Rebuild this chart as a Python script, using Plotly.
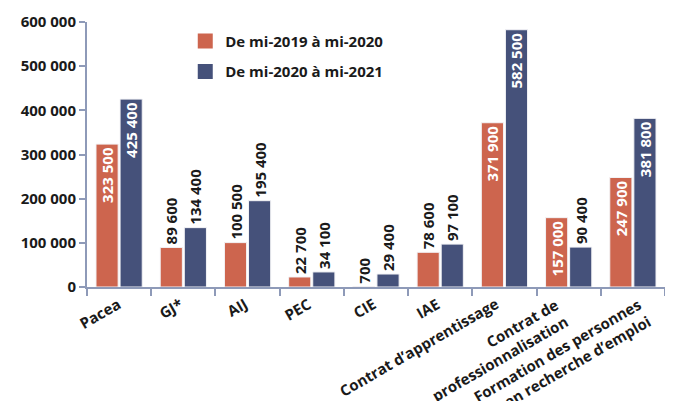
import plotly.graph_objects as go

categories = ["Pacea", "GJ*", "AIJ", "PEC", "CIE", "IAE",
              "Contrat d’apprentissage", "Contrat de<br>professionnalisation",
              "Formation des personnes<br>en recherche d’emploi"]
series_2019 = [323500, 89600, 100500, 22700, 700, 78600, 371900, 157000, 247900]
series_2020 = [425400, 134400, 195400, 34100, 29400, 97100, 582500, 90400, 381800]
name_2019 = "De mi-2019 à mi-2020"
name_2020 = "De mi-2020 à mi-2021"
y_ticks = [0, 100000, 200000, 300000, 400000, 500000, 600000]
y_tick_labels = ["0", "100 000", "200 000", "300 000", "400 000", "500 000", "600 000"]

# label placement (style)
pos_2019 = ["inside", "outside", "outside", "outside", "outside", "outside", "inside", "inside", "inside"]
pos_2020 = ["inside", "outside", "outside", "outside", "outside", "outside", "inside", "outside", "inside"]
label_xshift = [8, 6, 6, 6, 6, 6, 0, 6, 24]

ORANGE = "#CD654E"
NAVY = "#45517A"
AXIS = "#8E9AB8"
DARK = "#1a1a1a"
FONT = "Open Sans, sans-serif"

def fmt(v):
    return f"{v:,}".replace(",", " ")

def trace(vals, name, color, pos):
    return go.Bar(
        x=categories, y=vals, name=name, showlegend=False,
        marker=dict(color=color, line=dict(color="#F3F3F6", width=1)),
        text=[fmt(v) for v in vals],
        textposition=pos, textangle=-90,
        insidetextanchor="end",
        insidetextfont=dict(color="white", size=15, family=FONT, weight="bold"),
        outsidetextfont=dict(color=DARK, size=15, family=FONT, weight="bold"),
        constraintext="none",
        cliponaxis=False,
    )

def legend_item(name, color, grp):
    return go.Scatter(
        x=[None], y=[None], mode="markers", name=name, legendgroup=grp,
        marker=dict(symbol="square", size=15, color=color),
    )

fig = go.Figure([trace(series_2019, name_2019, ORANGE, pos_2019),
                 trace(series_2020, name_2020, NAVY, pos_2020),
                 legend_item(name_2019, ORANGE, "a"),
                 legend_item(name_2020, NAVY, "b")])

for c, dx in zip(categories, label_xshift):
    fig.add_annotation(
        x=c, y=0, xref="x", yref="y",
        text=c, showarrow=False, textangle=-30,
        xanchor="right", yanchor="top", align="right",
        xshift=dx, yshift=-4,
        font=dict(size=15, family=FONT, weight="bold", color=DARK),
    )

fig.update_layout(
    width=673, height=401,
    margin=dict(l=79, r=16, t=14, b=122, autoexpand=False),
    paper_bgcolor="white", plot_bgcolor="white",
    barmode="group", bargap=0.25, bargroupgap=0.08,
    font=dict(family=FONT, size=15, color=DARK),
    uniformtext=dict(minsize=14, mode="show"),
    legend=dict(x=0.17, y=0.99, xanchor="left", yanchor="top",
                bgcolor="rgba(0,0,0,0)", font=dict(size=15, family=FONT, weight="bold"),
                traceorder="grouped", tracegroupgap=8, itemsizing="trace"),
    showlegend=True,
)
fig.update_yaxes(
    range=[0, 600000], tickvals=y_ticks, ticktext=y_tick_labels, automargin=False,
    showgrid=False, zeroline=False,
    showline=True, linecolor=AXIS, linewidth=2,
    ticks="outside", ticklen=6, tickcolor=AXIS, tickwidth=2,
    tickfont=dict(size=15, family=FONT, weight="bold", color=DARK),
)
fig.update_xaxes(
    automargin=False, range=[-0.5, len(categories) - 0.5], autorange=False,
    showgrid=False, showline=True, linecolor=AXIS, linewidth=2,
    ticks="outside", tickson="boundaries", ticklen=7, tickcolor=AXIS, tickwidth=2,
    showticklabels=False,
)

fig.write_html("out.html")
